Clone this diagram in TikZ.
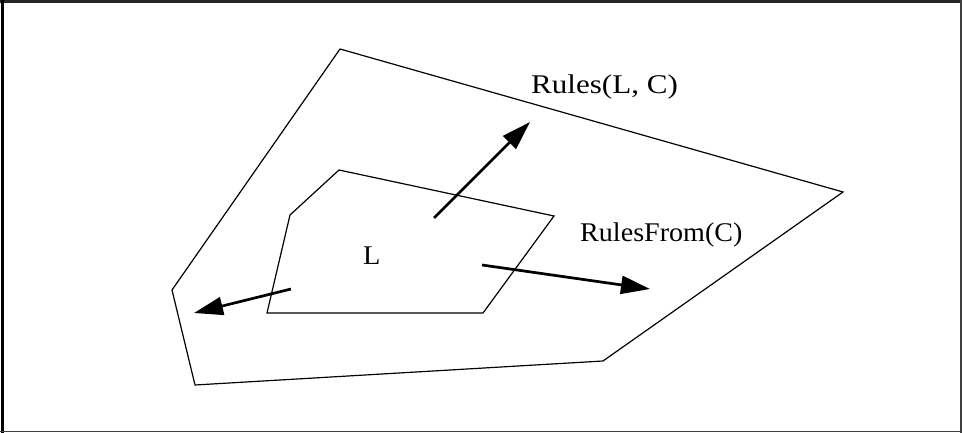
\documentclass[tikz,border=0pt]{standalone}
\usepackage{fontspec}
\setmainfont{Liberation Serif}
\usetikzlibrary{arrows.meta}
\begin{document}
\begin{tikzpicture}[x=1pt,y=-1pt,
  region/.style={line width=1.2pt, line join=miter},
  bigarrow/.style={line width=2.7pt, -{Triangle[length=29pt,width=18pt]}},
  lbl/.style={font=\fontsize{27}{32}\selectfont, inner sep=0pt, anchor=base west, transform shape},
  frameline/.style={line width=3pt}]
\useasboundingbox (0,0) rectangle (962,433);
% frame
\draw[frameline, black!85] (0,1.5) -- (962,1.5);
\draw[frameline] (2.5,0) -- (2.5,433);
\draw[line width=1.8pt, black!75] (961,0) -- (961,433);
\draw[line width=1.8pt, black!75] (0,431.5) -- (962,431.5);
% outer region
\coordinate (o1) at (340,49);
\coordinate (o2) at (843,192);
\coordinate (o3) at (603,361);
\coordinate (o4) at (195,385);
\coordinate (o5) at (172,290);
\draw[region] (o1) -- (o2) -- (o3) -- (o4) -- (o5) -- cycle;
% inner region
\coordinate (i1) at (339,170);
\coordinate (i2) at (554,216);
\coordinate (i3) at (483,313);
\coordinate (i4) at (267,313);
\coordinate (i5) at (290,215);
\draw[region] (i1) -- (i2) -- (i3) -- (i4) -- (i5) -- cycle;
% arrows
\coordinate (a1s) at (434,218);
\coordinate (a1e) at (530,122);
\coordinate (a2s) at (482,265);
\coordinate (a2e) at (650,289);
\coordinate (a3s) at (291,289);
\coordinate (a3e) at (194,313);
\draw[bigarrow] (a1s) -- (a1e);
\draw[bigarrow] (a2s) -- (a2e);
\draw[bigarrow] (a3s) -- (a3e);
% labels
\node[lbl, xscale=1.15] (rlc) at (531,94) {Rules(L, C)};
\node[lbl, xscale=1.04] (rfc) at (580,241) {RulesFrom(C)};
\node[lbl, xscale=1.05] (l) at (363,264) {L};
\end{tikzpicture}
\end{document}
